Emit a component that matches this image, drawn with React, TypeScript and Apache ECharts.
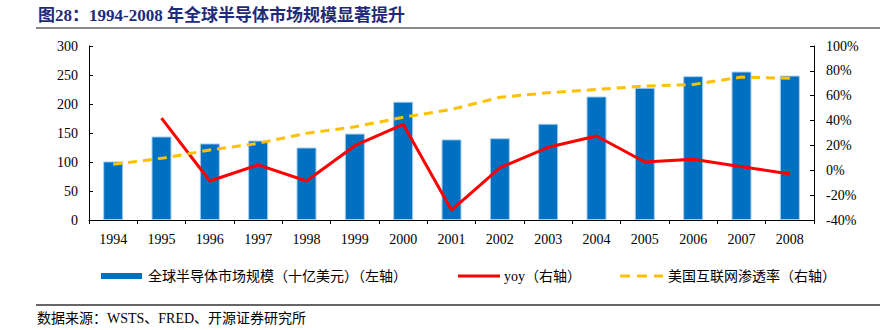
import React, { useEffect, useRef } from "react";
import * as echarts from "echarts";

const years = ["1994","1995","1996","1997","1998","1999","2000","2001","2002","2003","2004","2005","2006","2007","2008"];
const marketSize = [101, 144, 132, 137, 125, 149, 204, 139, 141, 166, 213, 228, 248, 256, 249];
const yoy = [null, 42, -8.6, 4.3, -8.6, 19.8, 37, -32, 2, 18.5, 27.6, 6.7, 8.8, 2.9, -3];
const internetPenetration = [4.8, 9.6, 16.3, 21.7, 29.8, 35, 42.6, 49, 58.7, 62.4, 65, 67.8, 69, 75, 74];

const titleText = "图28：1994-2008 年全球半导体市场规模显著提升";
const seriesNames = ["全球半导体市场规模（十亿美元）（左轴）", "yoy（右轴）", "美国互联网渗透率（右轴）"];
const sourceText = "数据来源：WSTS、FRED、开源证券研究所";

const SERIF = "'Times New Roman','Liberation Serif','Noto Sans CJK SC',serif";
const CJK = "'Liberation Serif','Noto Sans CJK SC',serif";

export default function App() {
  const ref = useRef<HTMLDivElement>(null);
  useEffect(() => {
    if (!ref.current) return;
    const chart = echarts.init(ref.current, undefined, { renderer: "svg" });
    chart.setOption({
      animation: false,
      backgroundColor: "#fff",
      grid: { left: 89, right: 66, top: 46, bottom: 110 },
      xAxis: {
        type: "category",
        data: years,
        axisLine: { lineStyle: { color: "#000", width: 1 } },
        axisTick: { show: true, length: 4, lineStyle: { color: "#000" } },
        axisLabel: { color: "#000", fontSize: 14, fontFamily: SERIF, margin: 12 },
      },
      yAxis: [
        {
          type: "value", min: 0, max: 300, interval: 50,
          axisLine: { show: true, lineStyle: { color: "#000" } },
          axisTick: { show: true, inside: true, length: 4, lineStyle: { color: "#000" } },
          splitLine: { show: false },
          axisLabel: { color: "#000", fontSize: 14, fontFamily: SERIF, margin: 11 },
        },
        {
          type: "value", min: -40, max: 100, interval: 20,
          axisLine: { show: true, lineStyle: { color: "#000" } },
          axisTick: { show: true, inside: true, length: 4, lineStyle: { color: "#000" } },
          splitLine: { show: false },
          axisLabel: { color: "#000", fontSize: 14, fontFamily: SERIF, margin: 12, formatter: "{value}%" },
        },
      ],
      series: [
        {
          name: seriesNames[0], type: "bar", data: marketSize, barWidth: 20,
          itemStyle: { color: "#0070C0", borderColor: "#A9CDEB", borderWidth: 1 },
        },
        {
          name: seriesNames[1], type: "line", yAxisIndex: 1, data: yoy, symbol: "none",
          lineStyle: { color: "#FF0000", width: 3 }, connectNulls: false,
        },
        {
          name: seriesNames[2], type: "line", yAxisIndex: 1, data: internetPenetration, symbol: "none",
          lineStyle: { color: "#FFC000", width: 3, type: [9, 6] },
        },
      ],
      graphic: [
        { type: "text", x: 38, y: 15, style: { text: titleText, fontSize: 17, fontWeight: "bold", fill: "#1F2A78", fontFamily: SERIF, verticalAlign: "middle" } },
        { type: "line", shape: { x1: 36, y1: 28, x2: 880, y2: 28 }, style: { stroke: "#888", lineWidth: 2 } },
        { type: "rect", shape: { x: 101, y: 273, width: 41, height: 6 }, style: { fill: "#0070C0" } },
        { type: "text", x: 148, y: 276, style: { text: seriesNames[0], fontSize: 14, fill: "#000", fontFamily: CJK, verticalAlign: "middle" } },
        { type: "line", shape: { x1: 458, y1: 276, x2: 500, y2: 276 }, style: { stroke: "#FF0000", lineWidth: 3 } },
        { type: "text", x: 504, y: 276, style: { text: seriesNames[1], fontSize: 14, fill: "#000", fontFamily: CJK, verticalAlign: "middle" } },
        { type: "line", shape: { x1: 620, y1: 276, x2: 663, y2: 276 }, style: { stroke: "#FFC000", lineWidth: 3, lineDash: [10, 7] } },
        { type: "text", x: 668, y: 276, style: { text: seriesNames[2], fontSize: 14, fill: "#000", fontFamily: CJK, verticalAlign: "middle" } },
        { type: "line", shape: { x1: 36, y1: 305, x2: 880, y2: 305 }, style: { stroke: "#333", lineWidth: 1.5 } },
        { type: "text", x: 37, y: 318, style: { text: sourceText, fontSize: 14, fill: "#000", fontFamily: CJK, verticalAlign: "middle" } },
      ],
    });
    return () => chart.dispose();
  }, []);
  return <div ref={ref} style={{ width: 880, height: 330, position: "absolute", left: 0, top: 0 }} />;
}
